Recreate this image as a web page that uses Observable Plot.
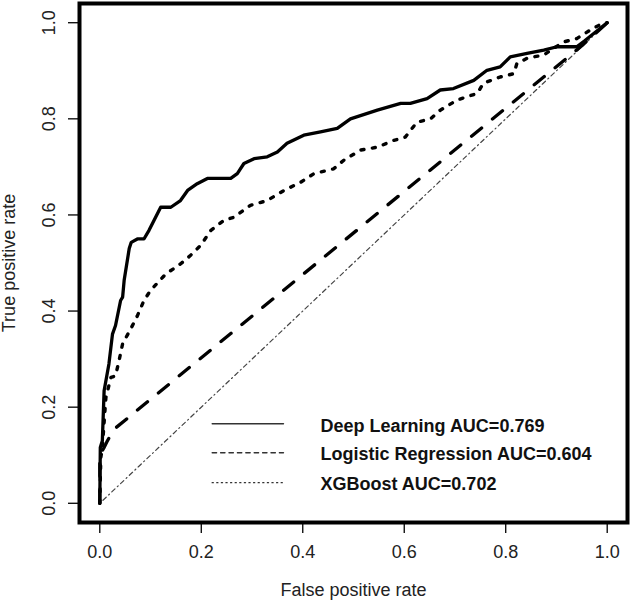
<!DOCTYPE html>
<html>
<head>
<meta charset="utf-8">
<script src="https://cdn.jsdelivr.net/npm/d3@7"></script>
<script src="https://cdn.jsdelivr.net/npm/@observablehq/plot@0.6"></script>
<style>
  html, body { margin: 0; padding: 0; background: #fff; }
  #chart { width: 630px; height: 601px; }
</style>
</head>
<body>
<div id="chart"></div>
<script>
// ---- Data ----
const xTicks = [0, 0.2, 0.4, 0.6, 0.8, 1.0];
const yTicks = [0, 0.2, 0.4, 0.6, 0.8, 1.0];

const dlFpr = [0, 0.001, 0.005, 0.0085, 0.018, 0.025, 0.031, 0.041, 0.045, 0.048, 0.058, 0.062, 0.074, 0.087, 0.097, 0.107, 0.12, 0.14, 0.159, 0.173, 0.192, 0.212, 0.258, 0.271, 0.284, 0.304, 0.33, 0.35, 0.369, 0.402, 0.435, 0.468, 0.494, 0.547, 0.593, 0.612, 0.645, 0.671, 0.697, 0.737, 0.763, 0.789, 0.809, 0.842, 0.875, 0.901, 0.94, 0.955, 1];
const dlTpr = [0, 0.116, 0.13, 0.234, 0.29, 0.352, 0.37, 0.422, 0.429, 0.464, 0.53, 0.543, 0.55, 0.55, 0.568, 0.589, 0.616, 0.616, 0.63, 0.651, 0.665, 0.676, 0.676, 0.686, 0.707, 0.717, 0.721, 0.731, 0.749, 0.766, 0.773, 0.78, 0.80, 0.818, 0.832, 0.832, 0.842, 0.86, 0.863, 0.88, 0.901, 0.908, 0.929, 0.936, 0.943, 0.95, 0.95, 0.962, 1];

const lrFpr = [0, 0, 0.008, 0.015, 0.028, 0.95, 1];
const lrTpr = [0, 0.10, 0.115, 0.13, 0.154, 0.952, 1];

const xgFpr = [0, 0.001, 0.002, 0.005, 0.012, 0.022, 0.031, 0.038, 0.045, 0.061, 0.074, 0.087, 0.10, 0.13, 0.159, 0.179, 0.199, 0.219, 0.245, 0.264, 0.297, 0.33, 0.363, 0.396, 0.422, 0.461, 0.481, 0.514, 0.547, 0.579, 0.602, 0.625, 0.652, 0.671, 0.704, 0.744, 0.756, 0.789, 0.816, 0.822, 0.842, 0.875, 0.914, 0.94, 0.967, 0.993, 1];
const xgTpr = [0, 0.05, 0.095, 0.116, 0.22, 0.262, 0.265, 0.297, 0.332, 0.363, 0.39, 0.422, 0.443, 0.477, 0.498, 0.516, 0.537, 0.568, 0.589, 0.595, 0.62, 0.63, 0.651, 0.668, 0.686, 0.696, 0.714, 0.735, 0.741, 0.755, 0.762, 0.793, 0.80, 0.818, 0.839, 0.853, 0.874, 0.887, 0.894, 0.915, 0.926, 0.933, 0.96, 0.967, 0.985, 1.0, 1];

const diagX = [0, 1];
const diagY = [0, 1];

const legendLabels = ["Deep Learning AUC=0.769", "Logistic Regression AUC=0.604", "XGBoost AUC=0.702"];
const legendDash = [null, "4.4,4", "1.1,3.5"];
const legendRowY = [0.1654, 0.1053, 0.0429];
const legendLineX = [0.2215, 0.362];
const legendTextX = 0.435;

const xLabel = "False positive rate";
const yLabel = "True positive rate";

// ---- Build ----
const toPts = (xs, ys) => xs.map((x, i) => ({x, y: ys[i]}));
const dl = toPts(dlFpr, dlTpr);
const lr = toPts(lrFpr, lrTpr);
const xg = toPts(xgFpr, xgTpr);
const diag = toPts(diagX, diagY);
const legend = legendLabels.map((label, i) => ({label, dash: legendDash[i], y: legendRowY[i]}));

const font = "'Liberation Sans', Arial, sans-serif";
const ink = "#222";

const chart = Plot.plot({
  width: 630,
  height: 601,
  marginLeft: 79,
  marginRight: 3,
  marginTop: 3,
  marginBottom: 79,
  style: {fontFamily: font, fontSize: "18px", color: ink, background: "#fff"},
  x: {domain: [-0.04, 1.04]},
  y: {domain: [-0.04, 1.04]},
  marks: [
    Plot.line(diag, {x: "x", y: "y", stroke: "#444", strokeWidth: 1.2, strokeDasharray: "1.1,3.3,4.4,3.3", strokeLinecap: "round"}),
    Plot.line(lr, {x: "x", y: "y", stroke: "#000", strokeWidth: 3.3, strokeDasharray: "13,14", strokeLinecap: "round"}),
    Plot.line(xg, {x: "x", y: "y", stroke: "#000", strokeWidth: 3.4, strokeDasharray: "3,8.5", strokeLinecap: "round"}),
    Plot.line(dl, {x: "x", y: "y", stroke: "#000", strokeWidth: 3.3, strokeLinejoin: "round", strokeLinecap: "round"}),
    // legend
    ...legend.map(d => Plot.link([d], {
      x1: () => legendLineX[0], x2: () => legendLineX[1], y1: "y", y2: "y",
      stroke: "#333", strokeWidth: 1.4, strokeLinecap: "round",
      strokeDasharray: d.dash ?? undefined
    })),
    Plot.text(legend, {x: () => legendTextX, y: "y", text: "label", textAnchor: "start", lineAnchor: "middle", dy: 2, fontSize: 18, fontWeight: "bold", fill: "#111"}),
    // axes
    Plot.axisX({ticks: xTicks, tickSize: 11, tickPadding: 12, tickFormat: d => d.toFixed(1), fontSize: 18, label: null, strokeWidth: 1.3, stroke: "#000", fill: ink}),
    Plot.axisY({ticks: yTicks, tickSize: 11, tickFormat: () => "", label: null, strokeWidth: 1.3, stroke: "#000"}),
    Plot.text(yTicks, {y: d => d, frameAnchor: "left", dx: -30, rotate: -90, textAnchor: "middle", lineAnchor: "middle", text: d => d.toFixed(1), fontSize: 18, fill: ink}),
    Plot.text([xLabel], {frameAnchor: "bottom", dy: 68, textAnchor: "middle", lineAnchor: "middle", text: d => d, fontSize: 18, fill: ink}),
    Plot.text([yLabel], {frameAnchor: "left", dx: -70, rotate: -90, textAnchor: "middle", lineAnchor: "middle", text: d => d, fontSize: 18, fill: ink}),
    Plot.frame({stroke: "#000", strokeWidth: 4})
  ]
});
document.getElementById("chart").appendChild(chart);
</script>
</body>
</html>
